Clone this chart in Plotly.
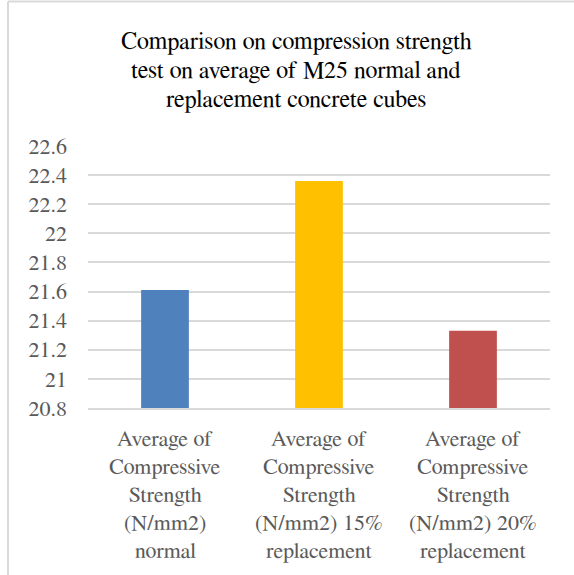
import plotly.graph_objects as go

category_lines = [
    ["Average of", "Compressive", "Strength", "(N/mm2)", "normal"],
    ["Average of", "Compressive", "Strength", "(N/mm2) 15%", "replacement"],
    ["Average of", "Compressive", "Strength", "(N/mm2) 20%", "replacement"],
]
categories = [" ".join(c) for c in category_lines]
values = [21.61, 22.36, 21.33]
colors = ["#4F81BD", "#FFC000", "#C0504D"]
title_lines = [
    "Comparison on compression strength",
    "test on average of M25 normal and",
    "replacement concrete cubes",
]

W, H = 574, 575
L, T = 88, 146
pw, ph = 462, 262
R, B = W - L - pw, H - T - ph

FONT = "FreeSerif, Liberation Serif, serif"
TICK_COLOR = "#595959"

def px_x(x):
    return (x - L) / pw

def px_y(y):
    return (H - B - y) / ph

fig = go.Figure(go.Bar(
    x=categories, y=values, marker=dict(color=colors, line=dict(width=0)),
    width=0.31,
))

fig.update_layout(
    width=W, height=H,
    margin=dict(l=L, r=R, t=T, b=B),
    paper_bgcolor="white", plot_bgcolor="white",
    showlegend=False,
    font=dict(family=FONT, size=21, color=TICK_COLOR),
)
fig.update_yaxes(range=[20.8, 22.6], dtick=0.2, tick0=20.8, showgrid=True,
                 gridcolor="#D9D9D9", gridwidth=1.5, zeroline=False, showline=False,
                 ticklabelstandoff=20, tickfont=dict(family=FONT, size=22, color=TICK_COLOR))
fig.update_xaxes(showline=True, linecolor="#D9D9D9", linewidth=1.5, showgrid=False,
                 showticklabels=False)

for i, line in enumerate(title_lines):
    fig.add_annotation(text=line, xref="paper", yref="paper", x=px_x(296),
                       y=px_y(41 + i * 28.5 + 2), xanchor="center", yanchor="middle",
                       showarrow=False, font=dict(family=FONT, size=24, color="#000000"))

for ci, lines in enumerate(category_lines):
    for li, line in enumerate(lines):
        fig.add_annotation(text=line, xref="x", yref="paper", x=categories[ci],
                           y=px_y(437 + li * 28 + 2), xanchor="center", yanchor="middle",
                           showarrow=False, font=dict(family=FONT, size=22, color=TICK_COLOR))

fig.add_shape(type="line", xref="paper", yref="paper", x0=px_x(8), x1=px_x(8),
              y0=px_y(1.5), y1=px_y(H + 20), line=dict(color="#D9D9D9", width=2))
fig.add_shape(type="line", xref="paper", yref="paper", x0=px_x(8), x1=px_x(W + 20),
              y0=px_y(1.5), y1=px_y(1.5), line=dict(color="#D9D9D9", width=2))

fig.write_html("out.html", config={"displayModeBar": False},
               post_script="document.body.style.margin='0';")
